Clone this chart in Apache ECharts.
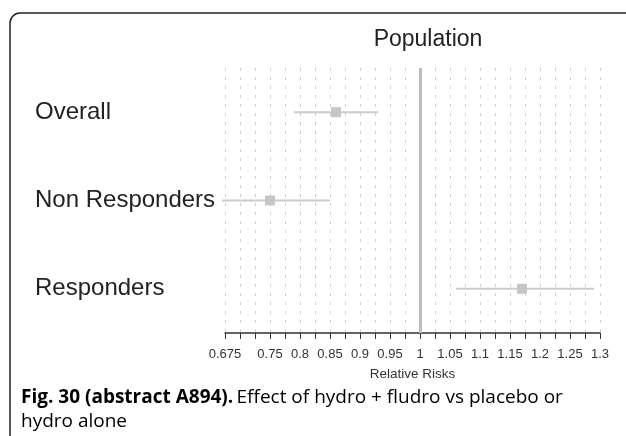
<!DOCTYPE html>
<html><head><meta charset="utf-8">
<script src="https://cdn.jsdelivr.net/npm/echarts@6/dist/echarts.min.js"></script>
<style>html,body{margin:0;padding:0;background:#fff}#c{width:626px;height:436px}</style>
</head><body><div id="c"></div>
<script>
var categories = ['Overall', 'Non Responders', 'Responders'];
var estimates = [0.86, 0.75, 1.17];
var lowerCI = [0.79, 0.67, 1.06];
var upperCI = [0.93, 0.85, 1.29];
var tickLabels = [0.675, 0.75, 0.8, 0.85, 0.9, 0.95, 1, 1.05, 1.1, 1.15, 1.2, 1.25, 1.3];
var refValue = [1];

var chart = echarts.init(document.getElementById('c'), null, {renderer: 'canvas'});
var ciData = categories.map(function (c, i) { return [lowerCI[i], estimates[i], upperCI[i], i]; });

chart.setOption({
  animation: false,
  backgroundColor: '#fff',
  title: {
    text: 'Population', left: 423, top: 23, textAlign: 'center',
    textStyle: {fontFamily: 'Liberation Sans', fontSize: 23, fontWeight: 'normal', color: '#222'}
  },
  grid: {left: 225, right: 26, top: 68, bottom: 103, containLabel: false},
  xAxis: {
    type: 'value', min: 0.675, max: 1.3, interval: 0.025,
    name: 'Relative Risks', nameLocation: 'middle', nameGap: 34,
    nameTextStyle: {fontFamily: 'Liberation Sans', fontSize: 13.5, color: '#333'},
    axisLine: {show: true, onZero: false, lineStyle: {color: '#333', width: 1.5}},
    axisTick: {show: true, length: 6, lineStyle: {color: '#333', width: 1}},
    axisLabel: {
      show: true, margin: 15, fontFamily: 'Liberation Sans', fontSize: 13, color: '#333',
      showMinLabel: true, showMaxLabel: true, hideOverlap: false,
      formatter: function (v) {
        for (var i = 0; i < tickLabels.length; i++) {
          if (Math.abs(tickLabels[i] - v) < 1e-6) return String(tickLabels[i]);
        }
        return '';
      }
    },
    splitLine: {show: true, lineStyle: {color: '#d0d0d0', type: [3, 6], width: 1}}
  },
  yAxis: {
    type: 'category', data: categories, inverse: true,
    axisLine: {show: false}, axisTick: {show: false},
    axisLabel: {align: 'left', margin: 190, fontFamily: 'Liberation Sans', fontSize: 24, color: '#222'},
    splitLine: {show: false}
  },
  series: [
    {
      type: 'custom', clip: false,
      data: ciData,
      encode: {x: [0, 1, 2], y: 3},
      renderItem: function (params, api) {
        var y = api.value(3);
        var pLo = api.coord([api.value(0), y]);
        var pMid = api.coord([api.value(1), y]);
        var pHi = api.coord([api.value(2), y]);
        var s = 10;
        return {
          type: 'group',
          children: [
            {type: 'line', shape: {x1: pLo[0], y1: pLo[1], x2: pHi[0], y2: pHi[1]},
             style: {stroke: '#cccccc', lineWidth: 2}},
            {type: 'rect', shape: {x: pMid[0] - s / 2, y: pMid[1] - s / 2, width: s, height: s},
             style: {fill: '#c6c6c6'}}
          ]
        };
      },
      z: 3
    },
    {
      type: 'line', data: [],
      markLine: {
        silent: true, symbol: 'none', label: {show: false},
        lineStyle: {color: '#bdbdbd', width: 3, type: 'solid'},
        data: refValue.map(function (v) { return {xAxis: v}; })
      }
    }
  ],
  graphic: [
    {type: 'rect', shape: {x: 10, y: 13, width: 640, height: 450, r: 10},
     style: {fill: 'none', stroke: '#222', lineWidth: 1.5}, silent: true},
    {type: 'text', left: 21, top: 388,
     style: {
       text: '{b|Fig. 30 (abstract A894).} {n|Effect of hydro + fludro vs placebo or}\n{n|hydro alone}',
       rich: {
         b: {fontFamily: 'Open Sans', fontWeight: 'bold', fontSize: 19, color: '#111', lineHeight: 24},
         n: {fontFamily: 'Open Sans', fontWeight: 'normal', fontSize: 19, color: '#111', lineHeight: 24}
       }
     }}
  ]
});
</script></body></html>
